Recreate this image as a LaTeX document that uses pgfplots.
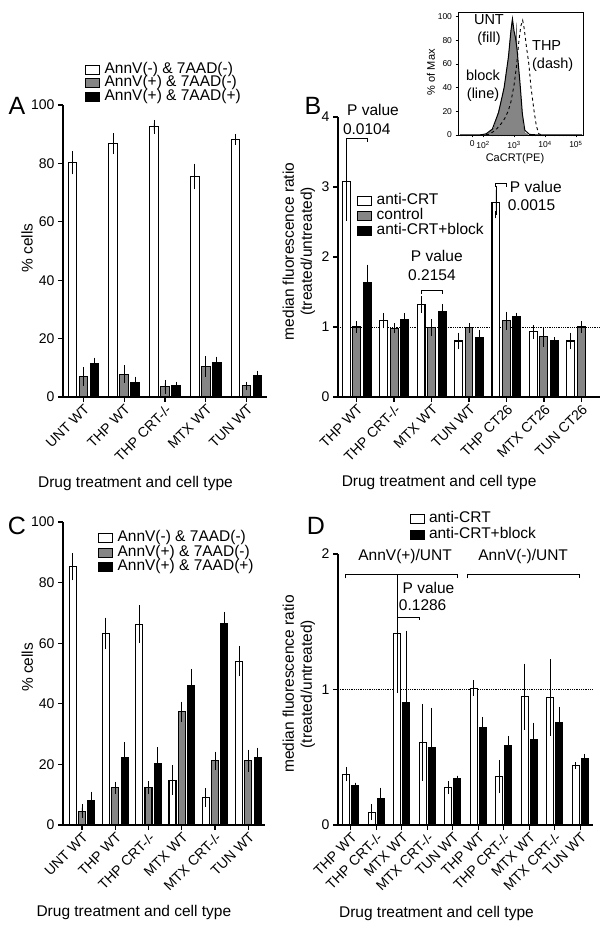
\documentclass[border=0pt]{standalone}
\usepackage{fontspec}
\setmainfont{Liberation Sans}
\usepackage{pgfplots}
\pgfplotsset{compat=1.18}
\definecolor{bargray}{HTML}{858585}
\newcommand{\lf}{\fontsize{15.5}{18}\selectfont}
\newcommand{\tf}{\fontsize{14}{15}\selectfont}
\pgfplotsset{
  common/.style={scale only axis, anchor=south west, axis lines*=left,
    axis line style={line width=1.6pt, black},
    tick align=outside, major tick length=5pt,
    tick style={line width=1.3pt, black},
    clip=false, /pgf/number format/assume math mode=true,
    tick label style={font=\tf},
    xticklabel style={rotate=45, anchor=north east, inner sep=1pt},
    label style={font=\lf},
    legend cell align=left,
    legend image code/.code={\draw[##1] (0pt,-4.5pt) rectangle (14pt,4.5pt); \path (18pt,0pt);},
    legend style={draw=none, fill=none, font=\lf, inner sep=0pt,
      nodes={inner sep=0.3pt, text height=10pt, text depth=3pt}},
  },
  eb/.style={error bars/.cd, y dir=both, y explicit,
    error bar style={line width=0.9pt, black, solid},
    error mark options={black, line width=0.9pt, mark size=3.5pt, solid}},
  ebt/.style={error bars/.cd, y dir=both, y explicit,
    error bar style={line width=0.7pt, black, solid},
    error mark options={black, line width=0.7pt, mark size=3.2pt, solid}},
}
\begin{document}
\begin{tikzpicture}
\useasboundingbox (0,0) rectangle (609pt,930pt);
% panel letters
\node[font=\fontsize{25}{25}\selectfont] at (17pt,824pt) {A};
\node[font=\fontsize{25}{25}\selectfont] at (313pt,824pt) {B};
\node[font=\fontsize{25}{25}\selectfont] at (17pt,404pt) {C};
\node[font=\fontsize{25}{25}\selectfont] at (316pt,404pt) {D};

% ---------------- Panel A ----------------
\begin{axis}[common, at={(63pt,533pt)}, width=204pt, height=292pt,
  xmin=-0.5, xmax=4.5, ymin=0, ymax=100, ytick={0,20,...,100},
  xtick={0,...,4}, xticklabels={UNT WT, THP WT, THP CRT-/-, MTX WT, TUN WT},
  ylabel={\% cells}, ylabel style={at={(axis description cs:-0.176,0.51)}, anchor=center},
  xlabel={Drug treatment and cell type}, xlabel style={at={(axis description cs:0.355,-0.295)}, anchor=center},
  legend style={at={(axis description cs:0.108,1.145)}, anchor=north west},
]
\addplot[ybar, bar width=0.21, bar shift=0, fill=white, draw=black, line width=1.1pt, forget plot, eb]
 coordinates {(-0.27,80.2)+-(0,2.8) (0.73,86.8)+-(0,2.4) (1.73,92.5)+-(0,1.2) (2.73,75.5)+-(0,3.2) (3.73,88.2)+-(0,0.7)};
\addplot[ybar, bar width=0.21, bar shift=0, fill=bargray, draw=black, line width=1.1pt, forget plot, eb]
 coordinates {(0,7.0)+-(0,2.0) (1,7.8)+-(0,1.8) (2,3.5)+-(0,1.2) (3,10.5)+-(0,2.3) (4,3.8)+-(0,0.3)};
\addplot[ybar, bar width=0.21, bar shift=0, fill=black, draw=black, line width=1.1pt, forget plot, eb]
 coordinates {(0.27,11.3)+-(0,1.0) (1.27,5.0)+-(0,0.8) (2.27,3.8)+-(0,0.3) (3.27,11.8)+-(0,0.8) (4.27,7.5)+-(0,0.3)};
\addlegendimage{fill=white, draw=black, line width=1.1pt}
\addlegendentry{AnnV(-) \& 7AAD(-)}
\addlegendimage{fill=bargray, draw=black, line width=1.1pt}
\addlegendentry{AnnV(+) \& 7AAD(-)}
\addlegendimage{fill=black, draw=black, line width=1.1pt}
\addlegendentry{AnnV(+) \& 7AAD(+)}
\end{axis}

% ---------------- Panel B ----------------
\begin{axis}[common, at={(338pt,533pt)}, width=262pt, height=280pt,
  xmin=-0.5, xmax=6.5, ymin=0, ymax=4, ytick={0,1,2,3,4},
  xtick={0,...,6}, xticklabels={THP WT, THP CRT-/-, MTX WT, TUN WT, THP CT26, MTX CT26, TUN CT26},
  ylabel={median fluorescence ratio\\(treated/untreated)},
  ylabel style={align=center, at={(axis description cs:-0.149,0.52)}, anchor=center},
  xlabel={Drug treatment and cell type}, xlabel style={at={(axis description cs:0.386,-0.307)}, anchor=center},
  legend style={at={(axis description cs:0.073,0.725)}, anchor=north west, row sep=1.5pt},
]
\addplot[densely dotted, line width=0.8pt, forget plot] coordinates {(-0.5,1) (6.5,1)};
\addplot[ybar, bar width=0.21, bar shift=0, fill=white, draw=black, line width=1.1pt, forget plot, eb]
 coordinates {(-0.28,3.08)+-(0,0.51) (0.72,1.09)+-(0,0.06) (1.72,1.32)+-(0,0.07) (2.72,0.80)+-(0,0.07) (3.72,2.78)+-(0,0.18) (4.72,0.93)+-(0,0.05) (5.72,0.80)+-(0,0.07)};
\addplot[ybar, bar width=0.21, bar shift=0, fill=bargray, draw=black, line width=1.1pt, forget plot, eb]
 coordinates {(0,1.00)+-(0,0.03) (1,0.98)+-(0,0.02) (2,0.99)+-(0,0.07) (3,0.99)+-(0,0.02) (4,1.09)+-(0,0.08) (5,0.86)+-(0,0.09) (6,1.00)+-(0,0.03)};
\addplot[ybar, bar width=0.21, bar shift=0, fill=black, draw=black, line width=1.1pt, forget plot, eb]
 coordinates {(0.28,1.64)+-(0,0.20) (1.28,1.10)+-(0,0.05) (2.28,1.22)+-(0,0.06) (3.28,0.85)+-(0,0.05) (4.28,1.15)+-(0,0) (5.28,0.80)+-(0,0)};
\addlegendimage{fill=white, draw=black, line width=1.1pt}
\addlegendentry{anti-CRT}
\addlegendimage{fill=bargray, draw=black, line width=1.1pt}
\addlegendentry{control}
\addlegendimage{fill=black, draw=black, line width=1.1pt}
\addlegendentry{anti-CRT+block}
\draw[line width=1pt] (axis cs:-0.28,3.64) -- (axis cs:-0.28,3.69) -- (axis cs:0.28,3.69) -- (axis cs:0.28,3.64);
\node[font=\lf, anchor=west, inner sep=0pt] at (axis cs:-0.26,4.1) {P value};
\node[font=\lf, anchor=west, inner sep=0pt] at (axis cs:-0.37,3.83) {0.0104};
\draw[line width=1pt] (axis cs:3.72,3.00) -- (axis cs:3.72,3.05) -- (axis cs:4.0,3.05) -- (axis cs:4.0,3.00);
\node[font=\lf, anchor=west, inner sep=0pt] at (axis cs:4.09,3.0) {P value};
\node[font=\lf, anchor=west, inner sep=0pt] at (axis cs:4.03,2.74) {0.0015};
\draw[line width=1pt] (axis cs:1.72,1.47) -- (axis cs:1.72,1.52) -- (axis cs:2.28,1.52) -- (axis cs:2.28,1.47);
\node[font=\lf, inner sep=0pt] at (axis cs:2.14,2.01) {P value};
\node[font=\lf, inner sep=0pt] at (axis cs:2.01,1.74) {0.2154};
\end{axis}

% ---------------- Inset ----------------
\begin{axis}[scale only axis, anchor=south west, at={(458pt,795pt)}, width=125pt, height=123pt,
  xmin=1.19, xmax=5.23, ymin=0, ymax=104, axis line style={line width=0.8pt},
  ytick={0,20,...,100}, xtick={1.65,2,3,4,5},
  xticklabels={0,10\textsuperscript{2},10\textsuperscript{3},10\textsuperscript{4},10\textsuperscript{5}},
  minor xtick={1.3,1.45,2.301,2.477,2.602,2.699,2.778,2.845,2.903,2.954,3.301,3.477,3.602,3.699,3.778,3.845,3.903,3.954,4.301,4.477,4.602,4.699,4.778,4.845,4.903,4.954},
  tick label style={font=\fontsize{8.5}{9}\selectfont}, /pgf/number format/assume math mode=true,
  tick align=outside, major tick length=2.5pt, minor tick length=1.5pt,
  tick style={line width=0.6pt, black}, xtick pos=bottom, ytick pos=left,
  ylabel={\% of Max}, ylabel style={font=\fontsize{11}{12}\selectfont, at={(axis description cs:-0.216,0.51)}, anchor=center},
  xlabel={CaCRT(PE)}, xlabel style={font=\fontsize{11}{12}\selectfont, at={(axis description cs:0.456,-0.19)}, anchor=center},
  clip=false,
]
\addplot[fill=bargray, draw=bargray!70!black, line width=0.3pt] coordinates {
 (1.9,0) (2.06,0.5) (2.2,2) (2.35,6) (2.5,20) (2.6,30) (2.68,40) (2.75,52) (2.82,65) (2.87,80) (2.92,92) (2.95,100)
 (2.98,90) (3.02,85) (3.06,80) (3.08,95) (3.1,70) (3.15,55) (3.2,40) (3.26,20) (3.3,8) (3.35,2) (3.45,0)} \closedcycle;
\addplot[black, line width=1pt] coordinates {
 (1.25,0) (1.9,0) (2.1,1) (2.3,5) (2.5,19) (2.68,40) (2.82,66) (2.9,88) (2.95,98) (3.0,88) (3.05,82) (3.1,72)
 (3.2,42) (3.27,18) (3.35,4) (3.5,0.5) (3.8,0) (5.2,0)};
\addplot[black, dashed, line width=0.9pt] coordinates {
 (1.9,0) (2.19,0.5) (2.4,4) (2.6,10) (2.7,14) (2.81,20) (2.9,28) (3.0,42) (3.08,58) (3.16,80) (3.22,92) (3.28,97)
 (3.33,90) (3.4,75) (3.48,60) (3.55,40) (3.65,20) (3.72,8) (3.8,1) (3.9,0)};
\node[font=\fontsize{14.5}{18}\selectfont, align=center, inner sep=0pt] at (axis cs:2.19,88.8) {UNT\\(fill)};
\node[font=\fontsize{14.5}{18}\selectfont, align=left, anchor=west, inner sep=0pt] at (axis cs:3.58,66.8) {THP\\(dash)};
\node[font=\fontsize{14.5}{18}\selectfont, align=center, inner sep=0pt] at (axis cs:2.0,41.4) {block\\(line)};
\end{axis}

% ---------------- Panel C ----------------
\begin{axis}[common, at={(63pt,105pt)}, width=202pt, height=303pt,
  xmin=-0.57, xmax=5.5, ymin=0, ymax=100, ytick={0,20,...,100},
  xtick={0,...,5}, xticklabels={UNT WT, THP WT, THP CRT-/-, MTX WT, MTX CRT-/-, TUN WT},
  ylabel={\% cells}, ylabel style={at={(axis description cs:-0.176,0.52)}, anchor=center},
  xlabel={Drug treatment and cell type}, xlabel style={at={(axis description cs:0.351,-0.29)}, anchor=center},
  legend style={at={(axis description cs:0.173,0.97)}, anchor=north west, row sep=1pt},
]
\addplot[ybar, bar width=0.21, bar shift=0, fill=white, draw=black, line width=1.1pt, forget plot, eb]
 coordinates {(-0.28,85.2)+-(0,3.3) (0.72,63.2)+-(0,4.1) (1.72,66.3)+-(0,5.1) (2.72,14.8)+-(0,3.7) (3.72,9.1)+-(0,1.9) (4.72,54.1)+-(0,3.9)};
\addplot[ybar, bar width=0.21, bar shift=0, fill=bargray, draw=black, line width=1.1pt, forget plot, eb]
 coordinates {(0,4.6)+-(0,1.1) (1,12.3)+-(0,0.9) (2,12.4)+-(0,0.9) (3,37.4)+-(0,2.2) (4,21.2)+-(0,1.9) (5,21.2)+-(0,2.5)};
\addplot[ybar, bar width=0.21, bar shift=0, fill=black, draw=black, line width=1.1pt, forget plot, eb]
 coordinates {(0.28,8.2)+-(0,1.7) (1.28,22.2)+-(0,4.0) (2.28,20.3)+-(0,4.2) (3.28,45.9)+-(0,4.5) (4.28,66.5)+-(0,2.7) (5.28,22.2)+-(0,2.2)};
\addlegendimage{fill=white, draw=black, line width=1.1pt}
\addlegendentry{AnnV(-) \& 7AAD(-)}
\addlegendimage{fill=bargray, draw=black, line width=1.1pt}
\addlegendentry{AnnV(+) \& 7AAD(-)}
\addlegendimage{fill=black, draw=black, line width=1.1pt}
\addlegendentry{AnnV(+) \& 7AAD(+)}
\end{axis}

% ---------------- Panel D ----------------
\begin{axis}[common, at={(338pt,105pt)}, width=255pt, height=271pt,
  xmin=-0.5, xmax=9.5, ymin=0, ymax=2, ytick={0,1,2},
  xtick={0,...,9}, xticklabels={THP WT, THP CRT-/-, MTX WT, MTX CRT-/-, TUN WT, THP WT, THP CRT-/-, MTX WT, MTX CRT-/-, TUN WT},
  ylabel={median fluorescence ratio\\(treated/untreated)},
  ylabel style={align=center, at={(axis description cs:-0.153,0.52)}, anchor=center},
  xlabel={Drug treatment and cell type}, xlabel style={at={(axis description cs:0.386,-0.325)}, anchor=center},
  legend style={at={(axis description cs:0.28,1.155)}, anchor=north west, row sep=2.5pt},
]
\addplot[densely dotted, line width=0.8pt, forget plot] coordinates {(-0.5,1) (9.5,1)};
\addplot[ybar, bar width=0.27, bar shift=0, fill=white, draw=black, line width=1.1pt, forget plot, ebt]
 coordinates {(-0.18,0.376)+-(0,0.03) (0.82,0.093)+-(0,0.035) (1.82,1.41)+-(0,0.41) (2.82,0.61)+-(0,0.26) (3.82,0.276)+-(0,0.025)
  (4.82,1.01)+-(0,0.035) (5.82,0.357)+-(0,0.10) (6.82,0.947)+-(0,0.22) (7.82,0.94)+-(0,0.26) (8.82,0.438)+-(0,0)};
\addplot[ybar, bar width=0.27, bar shift=0, fill=black, draw=black, line width=1.1pt, forget plot, ebt]
 coordinates {(0.18,0.29)+-(0,0) (1.18,0.197)+-(0,0.055) (2.18,0.90)+-(0,0.51) (3.18,0.57)+-(0,0.27) (4.18,0.34)+-(0,0)
  (5.18,0.72)+-(0,0.055) (6.18,0.585)+-(0,0.05) (7.18,0.632)+-(0,0.10) (8.18,0.755)+-(0,0.095) (9.18,0.487)+-(0,0.015)};
\addlegendimage{fill=white, draw=black, line width=1.1pt}
\addlegendentry{anti-CRT}
\addlegendimage{fill=black, draw=black, line width=1.1pt}
\addlegendentry{anti-CRT+block}
\draw[line width=1pt] (axis cs:-0.22,1.82) -- (axis cs:-0.22,1.85) -- (axis cs:4.2,1.85) -- (axis cs:4.2,1.82);
\draw[line width=1pt] (axis cs:4.56,1.82) -- (axis cs:4.56,1.85) -- (axis cs:8.97,1.85) -- (axis cs:8.97,1.82);
\node[font=\lf, inner sep=0pt] at (axis cs:2.13,1.98) {AnnV(+)/UNT};
\node[font=\lf, inner sep=0pt] at (axis cs:6.76,1.98) {AnnV(-)/UNT};
\draw[line width=1pt] (axis cs:1.82,1.51) -- (axis cs:1.82,1.535) -- (axis cs:2.7,1.535) -- (axis cs:2.7,1.51);
\node[font=\lf, inner sep=0pt] at (axis cs:3.05,1.75) {P value};
\node[font=\lf, inner sep=0pt] at (axis cs:2.82,1.62) {0.1286};
\end{axis}
\end{tikzpicture}
\end{document}
